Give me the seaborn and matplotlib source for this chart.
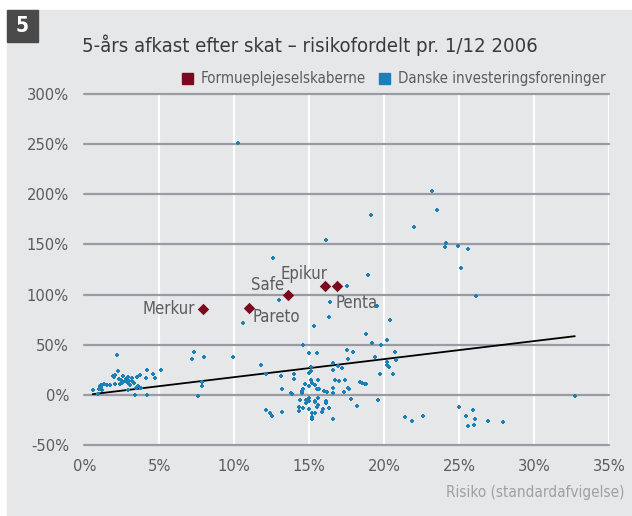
import pandas as pd
import seaborn as sns
import matplotlib.pyplot as plt
from matplotlib import font_manager
from matplotlib.patches import Rectangle, Patch

# data (risk in %, 5-year return after tax in %)
firm_names = ["Merkur", "Pareto", "Safe", "Epikur", "Penta"]
firm_risk = [7.9, 10.96, 13.56, 16.07, 16.85]
firm_return = [85.4, 86.7, 99.3, 108.6, 108.6]

# label offsets in pixels (dx, dy) and alignment for each firm
label_dx = [-8, 4, -4, 2, -2]
label_dy = [0, -9, 10, 12, -17]
label_ha = ["right", "left", "right", "right", "left"]

fund_risk = [
    # low risk cluster
    2.2, 7.3, 7.2, 5.1, 4.2, 4.6, 4.7, 3.7, 3.5, 4.1, 2.25, 1.9, 2.05, 2.0,
    2.6, 2.9, 3.2, 2.3, 2.45, 2.7, 2.8, 3.0, 3.2, 3.3, 2.9, 2.5, 2.35, 2.07,
    1.7, 1.5, 1.3, 1.13, 1.03, 1.1, 0.98, 1.2, 0.56, 3.05, 3.6, 3.47, 3.8,
    2.9, 0.93, 3.4, 4.2, 7.56, 7.98, 9.9, 7.85, 7.85,
    # upper points
    10.27, 23.2, 23.5, 19.1, 21.97, 24.1, 24.05, 16.1, 12.56, 18.9, 17.5,
    12.98, 16.4, 19.5, 10.6, 16.3, 20.4, 15.3, 18.8, 20.2,
    24.9, 25.6, 25.1, 26.1, 32.7,
    # lower right
    21.4, 21.85, 22.6, 25.0, 25.9, 25.45, 26.07, 26.9, 27.9, 25.6, 25.96,
    # middle cluster
    19.2, 19.8, 14.6, 17.5, 17.9, 15.0, 15.5, 20.7, 19.4, 17.56, 20.8, 20.2,
    16.6, 16.9, 11.8, 15.1, 16.6, 17.2, 20.3, 20.2, 12.1, 14.96, 15.1, 19.7,
    20.6, 14.0, 13.1, 13.98, 15.1, 15.6, 16.7, 16.95, 17.4, 15.2, 15.4, 14.7,
    18.4, 18.5, 18.7, 18.8, 14.98, 17.6, 17.65, 13.2, 14.6, 14.5, 15.5, 15.65,
    16.6, 16.0, 16.2, 13.8, 13.87, 14.5, 16.6, 17.3, 15.0, 14.8, 15.6, 17.8,
    19.56, 14.4, 14.76, 15.0, 15.4, 15.4, 16.1, 16.1, 15.6, 18.2, 14.3, 14.6,
    14.96, 15.5, 16.3, 15.9, 12.1, 12.4, 12.5, 13.2, 14.3, 15.2, 15.4, 15.85,
    15.2, 15.2, 16.6,
]
fund_return = [
    # low risk cluster
    39.5, 43.2, 35.6, 24.9, 24.6, 20.9, 17.0, 19.6, 17.9, 16.6, 23.6, 18.9, 19.5, 18.0,
    18.9, 17.9, 17.3, 15.9, 14.6, 13.9, 15.9, 13.9, 13.6, 11.9, 11.9, 12.3, 11.3, 10.9,
    10.3, 9.6, 10.6, 10.3, 9.3, 7.6, 6.0, 4.6, 5.3, 10.0, 8.9, 7.3, 7.3,
    4.6, 1.0, -0.3, 0.0, -1.0, 38.2, 37.8, 12.9, 9.3,
    # upper points
    251, 203, 184.6, 179, 167, 151.8, 147.4, 154.4, 136.5, 119.5, 108.3,
    94.3, 92.3, 89, 72, 77.7, 75, 68.4, 60.8, 55,
    148.4, 145.1, 126.5, 98.3, -1,
    # lower right
    -22.2, -26.5, -21.2, -12.5, -14.9, -21.2, -24.2, -25.9, -27.5, -31.5, -30.5,
    # middle cluster
    51.5, 49.5, 49.5, 44.8, 42.5, 41.8, 41.5, 42.8, 37.5, 35.9, 34.9, 32.3,
    31.9, 28.9, 29.3, 27.9, 24.9, 26.9, 27.3, 29.9, 20.6, 21.9, 23.6, 20.6,
    20.3, 20.6, 18.6, 15.6, 14.6, 14.6, 14.9, 14.3, 14.9, 12.3, 10.3, 10.6,
    12.9, 11.6, 10.6, 11.3, 8.9, 7.3, 6.3, 6.3, 6.3, 4.3, 6.0, 6.0,
    6.6, 4.3, 3.3, 2.3, 1.0, 1.7, 1.4, 3.3, -3.6, -5.3, -3.0, -4.6,
    -5.6, -5.6, -8.6, -6.0, -6.3, -7.3, -6.6, -8.6, -10.6, -11.0, -12.6, -13.3,
    -14.2, -12.3, -13.2, -14.2, -15.2, -18.2, -21.5, -17.5, -16.5, -17.9, -17.9, -17.5,
    -22.5, -23.9, -23.9,
]

trend_risk = [0.56, 32.7]
trend_return = [0.7, 58.5]

x_ticks = [0, 5, 10, 15, 20, 25, 30, 35]
y_ticks = [-50, 0, 50, 100, 150, 200, 250, 300]

TITLE = "5-års afkast efter skat – risikofordelt pr. 1/12 2006"
XLABEL = "Risiko (standardafvigelse)"
LEGEND_LABELS = ["Formueplejeselskaberne", "Danske investeringsforeninger"]

PANEL = "#e6e7e9"
RED = "#7b0a1e"
BLUE = "#1c80b8"
TEXT = "#5c5c5c"

W, H = 632, 516

sns.set_style("white")
names = {f.name for f in font_manager.fontManager.ttflist}
if "Liberation Sans Narrow" in names:
    plt.rcParams["font.family"] = ["Liberation Sans Narrow", "DejaVu Sans"]
else:
    plt.rcParams["font.family"] = ["DejaVu Sans"]
    plt.rcParams["font.stretch"] = "condensed"

fig = plt.figure(figsize=(W / 100, H / 100), dpi=100, facecolor="white")
fig.patches.append(Rectangle((7 / W, 0), 1, 1 - 10 / H, transform=fig.transFigure,
                             color=PANEL, zorder=-2))
fig.patches.append(Rectangle((7 / W, 1 - 42 / H), 31 / W, 32 / H, transform=fig.transFigure,
                             color="#4a4a4a", zorder=-1))
fig.text(22.5 / W, 1 - 26 / H, "5", color="white", fontsize=15, fontweight="bold",
         ha="center", va="center")
fig.text(82 / W, 1 - 45 / H, TITLE, color="#3a3a3a", fontsize=14.6, ha="left", va="center")

ax = fig.add_axes([84.3 / W, 71 / H, 525 / W, 351 / H], facecolor=PANEL, zorder=1)

for x in x_ticks[1:]:
    ax.axvline(x, color="white", lw=1.6, zorder=0)
for y in y_ticks:
    ax.axhline(y, color="#9a9ca4", lw=1.6, zorder=1, clip_on=False)

fund_df = pd.DataFrame({"risk": fund_risk, "return": fund_return})
firm_df = pd.DataFrame({"risk": firm_risk, "return": firm_return, "name": firm_names})

sns.lineplot(x=trend_risk, y=trend_return, color="black", lw=1.3, ax=ax, zorder=3)
sns.scatterplot(data=fund_df, x="risk", y="return", marker="P", s=12, color=BLUE,
                linewidth=0, ax=ax, zorder=4, legend=False)
sns.scatterplot(data=firm_df, x="risk", y="return", marker="D", s=34, color=RED,
                linewidth=0, ax=ax, zorder=5, legend=False)

for i, name in enumerate(firm_names):
    ax.annotate(name, (firm_risk[i], firm_return[i]), xytext=(label_dx[i], label_dy[i]),
                textcoords="offset pixels", ha=label_ha[i], va="center",
                fontsize=12, color=TEXT, zorder=6)

ax.set_xlim(0, 35)
ax.set_ylim(-50, 300)
ax.set_xticks(x_ticks)
ax.set_yticks(y_ticks)
ax.set_xticklabels([f"{v}%" for v in x_ticks])
ax.set_yticklabels([f"{v}%" for v in y_ticks])
ax.tick_params(axis="both", length=0, labelsize=11.8, labelcolor=TEXT)
ax.tick_params(axis="x", pad=10)
ax.tick_params(axis="y", pad=11)
ax.set_xlabel("")
ax.set_ylabel("")
for s in ax.spines.values():
    s.set_visible(False)

handles = [Patch(color=RED), Patch(color=BLUE)]
ax.legend(handles, LEGEND_LABELS, loc="lower right", bbox_to_anchor=(1.004, 1.005),
          ncol=2, frameon=False, fontsize=10.8, labelcolor=TEXT, handlelength=0.75,
          handleheight=0.75, handletextpad=0.5, columnspacing=0.9, borderaxespad=0.0)

fig.text(625 / W, 1 - 493 / H, XLABEL, color="#a0a0a0", fontsize=11, ha="right", va="center")

fig.savefig("out.png", dpi=100)
